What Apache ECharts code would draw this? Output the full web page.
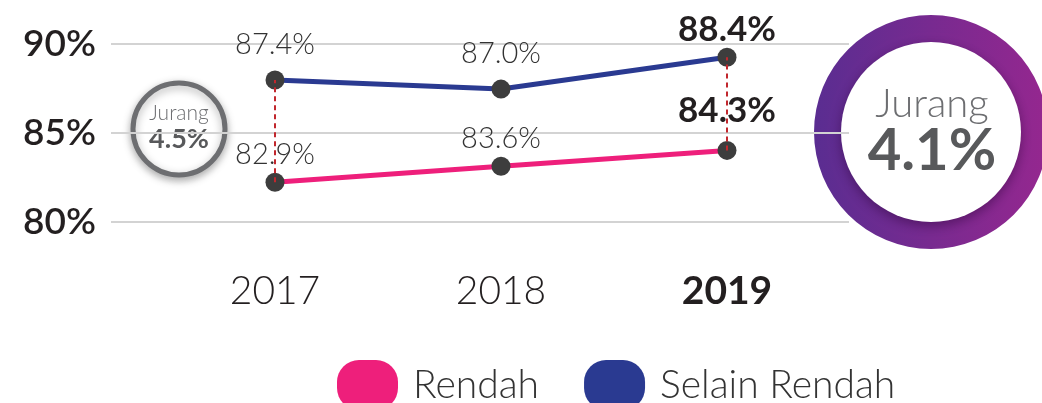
<!DOCTYPE html>
<html>
<head>
<meta charset="utf-8">
<script src="https://cdn.jsdelivr.net/npm/echarts@6/dist/echarts.min.js"></script>
<style>
  html, body { margin: 0; padding: 0; background: #fff; }
  #chart { width: 1042px; height: 403px; }
</style>
</head>
<body>
<div id="chart"></div>
<script>
const years = ['2017', '2018', '2019']
const rendah = [82.9, 83.6, 84.3]
const selainRendah = [87.4, 87.0, 88.4]
const yTicks = [80, 85, 90]
const gapIndex = [0, 2]

const FONT = 'Lato'
const last = years.length - 1
const gap = (i) => (selainRendah[i] - rendah[i]).toFixed(1) + '%'

function points(values, normalGap, boldGap) {
  return values.map((v, i) => {
    if (i !== last) return { value: v, label: { distance: normalGap } }
    return {
      value: v,
      label: { distance: boldGap, fontSize: 35, fontWeight: 'bold', color: '#231f20' }
    }
  })
}

const labelStyle = {
  show: true,
  position: 'top',
  fontFamily: FONT,
  fontSize: 29,
  fontWeight: 300,
  color: '#333',
  formatter: (p) => p.value.toFixed(1) + '%'
}

const myChart = echarts.init(document.getElementById('chart'))
const option = {
  animation: false,
  grid: [
    { left: 111, right: 193, top: 44, height: 178 },
    { left: 275, right: 315, top: 21, bottom: 155 }
  ],
  xAxis: [
    { gridIndex: 0, type: 'category', data: years, show: false },
    {
      gridIndex: 1,
      type: 'category',
      data: years,
      boundaryGap: false,
      axisLine: { show: false },
      axisTick: { show: false },
      splitLine: { show: false },
      axisLabel: {
        margin: 24,
        fontFamily: FONT,
        fontSize: 39,
        fontWeight: 300,
        color: '#231f20',
        formatter: (v) => (v === years[last] ? '{b|' + v + '}' : v),
        rich: { b: { fontFamily: FONT, fontSize: 39, fontWeight: 'bold', color: '#231f20' } }
      }
    }
  ],
  yAxis: [
    {
      gridIndex: 0,
      type: 'value',
      min: yTicks[0],
      max: yTicks[yTicks.length - 1],
      interval: yTicks[1] - yTicks[0],
      axisLine: { show: false },
      axisTick: { show: false },
      splitLine: { lineStyle: { color: '#d3d3d3', width: 2 } },
      axisLabel: {
        margin: 15,
        fontFamily: FONT,
        fontSize: 37,
        fontWeight: 600,
        color: '#231f20',
        formatter: '{value}%'
      }
    },
    { gridIndex: 1, type: 'value', min: 80, max: 90, show: false }
  ],
  legend: {
    left: 332,
    top: 355,
    itemWidth: 61,
    itemHeight: 52,
    itemGap: 45,
    icon: 'path://M22,0 H39 A22,22 0 0 1 61,22 V28 A22,22 0 0 1 39,50 H22 A22,22 0 0 1 0,28 V22 A22,22 0 0 1 22,0 Z',
    textStyle: { fontFamily: FONT, fontSize: 39, fontWeight: 300, color: '#333', padding: [0, 0, 0, 10] },
    data: [
      { name: 'Rendah', itemStyle: { color: '#ee1f7b' } },
      { name: 'Selain Rendah', itemStyle: { color: '#2a3a91' } }
    ]
  },
  series: [
    {
      name: 'Rendah',
      type: 'line',
      xAxisIndex: 1,
      yAxisIndex: 1,
      data: points(rendah, 4, 13),
      symbol: 'circle',
      symbolSize: 19,
      lineStyle: { color: '#ee1f7b', width: 5 },
      itemStyle: { color: '#3d3d3d' },
      label: labelStyle,
      markLine: {
        silent: true,
        symbol: ['none', 'none'],
        label: { show: false },
        lineStyle: { color: '#c1272d', width: 2, type: [5, 4] },
        data: gapIndex.map((i) => [
          { coord: [years[i], rendah[i]] },
          { coord: [years[i], selainRendah[i]] }
        ])
      },
      z: 3
    },
    {
      name: 'Selain Rendah',
      type: 'line',
      xAxisIndex: 1,
      yAxisIndex: 1,
      data: points(selainRendah, 11, 1),
      symbol: 'circle',
      symbolSize: 19,
      lineStyle: { color: '#2a3a91', width: 5 },
      itemStyle: { color: '#3d3d3d' },
      label: labelStyle,
      z: 3
    }
  ],
  graphic: [
    {
      type: 'group',
      x: 179,
      y: 129,
      children: [
        {
          type: 'circle',
          shape: { cx: 0, cy: 0, r: 46 },
          style: {
            fill: '#fff', stroke: '#6d6e71', lineWidth: 5,
            shadowBlur: 8, shadowOffsetY: 3, shadowColor: 'rgba(0,0,0,0.3)'
          }
        },
        {
          type: 'text',
          x: 0, y: -16,
          style: { text: 'Jurang', font: '300 21px ' + FONT, fill: '#6d6e71', align: 'center', verticalAlign: 'middle' }
        },
        {
          type: 'text',
          x: 0, y: 10,
          style: { text: gap(gapIndex[0]), font: 'bold 27px ' + FONT, fill: '#58595b', align: 'center', verticalAlign: 'middle' }
        }
      ]
    },
    {
      type: 'group',
      x: 931,
      y: 132,
      children: [
        {
          type: 'ring',
          shape: { cx: 0, cy: 0, r: 117, r0: 88 },
          style: {
            fill: new echarts.graphic.LinearGradient(0, 0, 1, 0, [
              { offset: 0, color: '#5a2d91' },
              { offset: 1, color: '#95278f' }
            ])
          }
        },
        {
          type: 'circle',
          shape: { cx: 0, cy: 0, r: 90 },
          style: { fill: '#fff', shadowBlur: 12, shadowOffsetY: 4, shadowColor: 'rgba(40,0,50,0.45)' }
        },
        {
          type: 'text',
          x: 1, y: -28,
          style: { text: 'Jurang', font: '300 40px ' + FONT, fill: '#6d6e71', align: 'center', verticalAlign: 'middle' }
        },
        {
          type: 'text',
          x: 1, y: 19,
          style: { text: gap(gapIndex[1]), font: 'bold 58px ' + FONT, fill: '#58595b', align: 'center', verticalAlign: 'middle' }
        }
      ]
    }
  ]
}
myChart.setOption(option)
</script>
</body>
</html>
